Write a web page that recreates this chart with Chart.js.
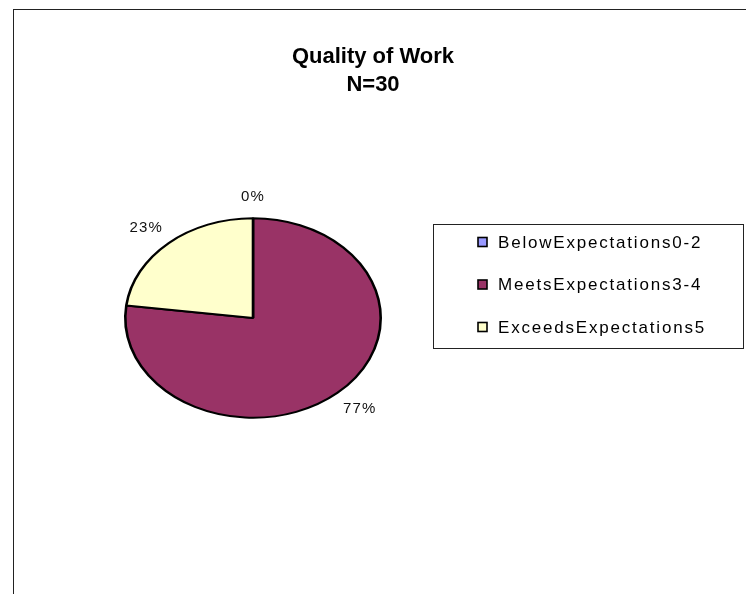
<!DOCTYPE html>
<html>
<head>
<meta charset="utf-8">
<title>Quality of Work</title>
<script src="https://cdn.jsdelivr.net/npm/chart.js@4.4.1/dist/chart.umd.min.js"></script>
<style>
  html, body { margin: 0; padding: 0; background: #ffffff; }
  #wrap { position: relative; width: 746px; height: 594px; overflow: hidden; }
  #frame { position: absolute; left: 13px; top: 9px; width: 800px; height: 700px;
           border-left: 1px solid #222; border-top: 1px solid #222; }
  #chart { position: absolute; left: 0; top: 0; }
</style>
</head>
<body>
<div id="wrap">
  <div id="frame"></div>
  <canvas id="chart" width="746" height="594"></canvas>
</div>
<script>
// Rating categories and their share of the 30 reviews (percent)
const categories = ['BelowExpectations0-2', 'MeetsExpectations3-4', 'ExceedsExpectations5'];
const shares = [0, 77, 23];
const sliceColors = ['#9999FF', '#993366', '#FFFFCC'];
const titleLines = ['Quality of Work', 'N=30'];

const FONT = 'Arial, "Liberation Sans", sans-serif';

// Place the pie's square area to the left of the canvas, leaving room for the key
const pieFrame = {
  id: 'pieFrame',
  afterLayout(chart, args, opts) {
    const a = chart.chartArea;
    a.left = opts.left;
    a.right = opts.right;
    a.width = a.right - a.left;
  }
};

// Squash the pie vertically so it is drawn as an ellipse
const ellipse = {
  id: 'ellipse',
  beforeDatasetsDraw(chart, args, opts) {
    const arc = chart.getDatasetMeta(0).data[0];
    const ctx = chart.ctx;
    ctx.save();
    ctx.translate(arc.x, arc.y);
    ctx.scale(1, opts.ratio);
    ctx.translate(-arc.x, -arc.y);
  },
  afterDatasetsDraw(chart) {
    chart.ctx.restore();
  }
};

// Percent labels just outside each slice
const sliceLabels = {
  id: 'sliceLabels',
  afterDatasetsDraw(chart, args, opts) {
    const ctx = chart.ctx;
    const ratio = chart.options.plugins.ellipse.ratio;
    const data = chart.data.datasets[0].data;
    const total = data.reduce((s, v) => s + v, 0);
    ctx.save();
    ctx.font = opts.font;
    ctx.letterSpacing = opts.spacing;
    ctx.fillStyle = opts.color;
    ctx.textAlign = 'center';
    ctx.textBaseline = 'middle';
    chart.getDatasetMeta(0).data.forEach((arc, i) => {
      const mid = (arc.startAngle + arc.endAngle) / 2;
      const c = Math.cos(mid), s = Math.sin(mid);
      const text = Math.round(data[i] / total * 100) + '%';
      const w = ctx.measureText(text).width;
      const px = arc.x + c * arc.outerRadius;
      const py = arc.y + s * arc.outerRadius * ratio;
      const lx = px + c * (opts.gap + w / 2);
      const ly = py + s * (opts.gap + opts.textHeight / 2);
      ctx.fillText(text, lx, ly);
    });
    ctx.restore();
  }
};

// Boxed key on the right
const boxedKey = {
  id: 'boxedKey',
  afterDraw(chart, args, opts) {
    const ctx = chart.ctx;
    const ds = chart.data.datasets[0];
    ctx.save();
    ctx.lineWidth = 1;
    ctx.strokeStyle = '#222';
    ctx.strokeRect(opts.left + 0.5, opts.top + 0.5, opts.width, opts.height);
    ctx.font = opts.font;
    ctx.letterSpacing = opts.spacing;
    ctx.textBaseline = 'middle';
    ctx.textAlign = 'left';
    chart.data.labels.forEach((label, i) => {
      const y = opts.firstRow + i * opts.rowGap;
      ctx.fillStyle = ds.backgroundColor[i];
      ctx.fillRect(opts.markerX, y - opts.marker / 2, opts.marker, opts.marker);
      ctx.lineWidth = 1.6;
      ctx.strokeStyle = '#000';
      ctx.strokeRect(opts.markerX, y - opts.marker / 2, opts.marker, opts.marker);
      ctx.fillStyle = '#000';
      ctx.fillText(label, opts.textX, y + 1);
    });
    ctx.restore();
  }
};

new Chart(document.getElementById('chart'), {
  type: 'pie',
  data: {
    labels: categories,
    datasets: [{
      data: shares,
      backgroundColor: sliceColors,
      borderColor: '#000',
      borderWidth: 2.6,
      clip: false
    }]
  },
  plugins: [pieFrame, ellipse, sliceLabels, boxedKey],
  options: {
    responsive: false,
    animation: false,
    events: [],
    layout: { padding: { top: 0, bottom: 147, left: 0, right: 0 } },
    plugins: {
      legend: { display: false },
      tooltip: { enabled: false },
      title: {
        display: true,
        text: titleLines,
        color: '#000',
        font: { family: FONT, size: 22, weight: 'bold', lineHeight: 28 / 22 },
        padding: { top: 43, bottom: 90 }
      },
      pieFrame: { left: 124, right: 382 },
      ellipse: { ratio: 100 / 128 },
      sliceLabels: { font: '15px ' + FONT, spacing: '1.2px', color: '#111', gap: 17, textHeight: 8 },
      boxedKey: {
        left: 433, top: 224, width: 310, height: 124,
        markerX: 478, marker: 9, textX: 498,
        firstRow: 242, rowGap: 42.5,
        font: '17px ' + FONT, spacing: '1.8px'
      }
    }
  }
});
</script>
</body>
</html>
